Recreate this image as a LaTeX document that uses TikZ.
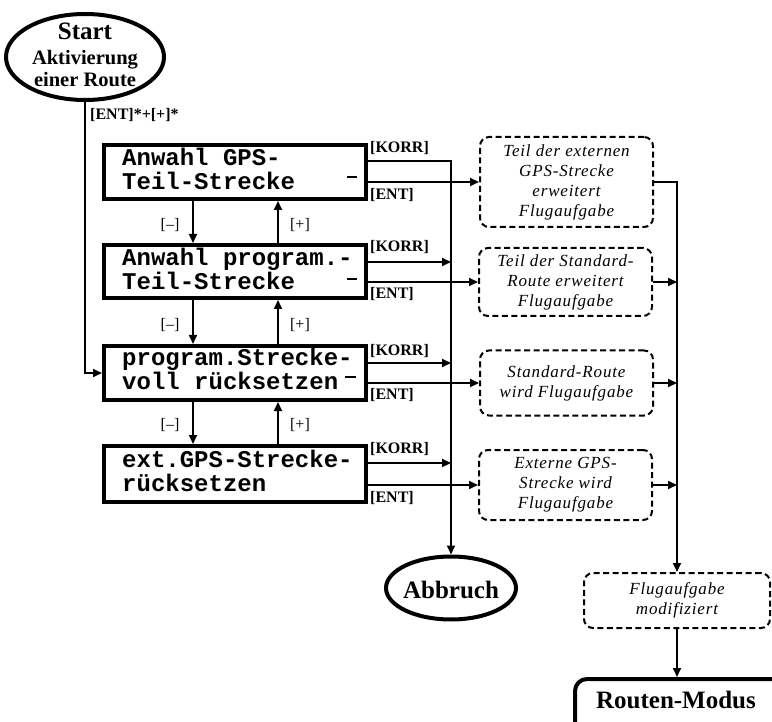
\documentclass[tikz,border=0pt]{standalone}
\usepackage{fontspec}
\setmainfont{Liberation Serif}
\newfontfamily\lcdfont{Liberation Mono}
\usetikzlibrary{arrows.meta,shapes.geometric}
\begin{document}
\begin{tikzpicture}[x=1pt,y=-1pt,
  lcd/.style={draw, line width=4pt, minimum width=262pt, inner sep=0pt},
  lcdtxt/.style={font=\lcdfont\bfseries\fontsize{24}{24}\selectfont, anchor=base west, inner sep=0pt},
  res/.style={draw, dash pattern=on 6pt off 3.5pt, line width=2pt, rounded corners=9pt,
    align=center, inner sep=0pt, minimum width=173pt,
    font=\itshape\fontsize{17}{20}\selectfont\addfontfeature{LetterSpace=5}},
  key/.style={font=\bfseries\fontsize{16}{16}\selectfont, inner sep=0pt},
  pm/.style={font=\fontsize{16}{16}\selectfont, inner sep=0pt},
  term/.style={draw, ellipse, line width=4pt, inner sep=0pt},
  big/.style={font=\bfseries\fontsize{25}{25}\selectfont, inner sep=0pt, anchor=base},
  arr/.style={line width=2pt, -{Triangle[length=9pt,width=8pt]}},
  cur/.style={line width=2.5pt}
]
\path[use as bounding box] (0,0) rectangle (772,722);
\clip (0,0) rectangle (772,722);

% Start
\node[term, minimum width=158pt, minimum height=86pt] (start) at (85,57) {};
\node[big] (startt) at (85,40) {Start};
\node[big, font=\bfseries\fontsize{20.5}{20.5}\selectfont] (startt2) at (85,65) {Aktivierung};
\node[big, font=\bfseries\fontsize{20.5}{20.5}\selectfont] (startt3) at (85,87) {einer Route};
\node[key, anchor=west] (entplus) at (90,115) {[ENT]*+[+]*};

% LCD boxes
\node[lcd, minimum height=54pt] (b1) at (235,172) {};
\node[lcd, minimum height=53pt] (b2) at (235,271.5) {};
\node[lcd, minimum height=54pt] (b3) at (235,373) {};
\node[lcd, minimum height=56pt] (b4) at (235,474) {};

\node[lcdtxt] (b1a) at (122,166) {Anwahl GPS-};
\node[lcdtxt] (b1b) at (122,190) {Teil-Strecke};
\node[lcdtxt] (b2a) at (122,266) {Anwahl program.-};
\node[lcdtxt] (b2b) at (122,290) {Teil-Strecke};
\node[lcdtxt] (b3a) at (122,366) {program.Strecke-};
\node[lcdtxt] (b3b) at (122,390) {voll rücksetzen};
\node[lcdtxt] (b4a) at (122,467) {ext.GPS-Strecke-};
\node[lcdtxt] (b4b) at (122,491) {rücksetzen};

\draw[cur] (347,177) -- (357,177);
\draw[cur] (347,279) -- (357,279);
\draw[cur] (345,377) -- (356,377);

% up/down arrows
\foreach \a/\b in {b1/b2,b2/b3,b3/b4}{
  \draw[arr] ([xshift=-42pt]\a.south) -- ([xshift=-42pt]\b.north);
  \draw[arr] ([xshift=43pt]\b.north) -- ([xshift=43pt]\a.south);
}
\node[pm] (m1) at (170,225) {[–]};
\node[pm] (p1) at (300,225) {[+]};
\node[pm] (m2) at (170,325) {[–]};
\node[pm] (p2) at (300,325) {[+]};
\node[pm] (m3) at (170,425) {[–]};
\node[pm] (p3) at (300,425) {[+]};

% start to box3
\draw[arr] (start.south) |- (b3.west);

% result boxes
\node[res, minimum height=90pt] (d1) at (566.5,182) {Teil der externen\\GPS-Strecke\\erweitert\\Flugaufgabe};
\node[res, minimum height=68pt] (d2) at (565.5,282) {Teil der Standard-\\Route erweitert\\Flugaufgabe};
\node[res, minimum height=65pt] (d3) at (566.5,383) {Standard-Route\\wird Flugaufgabe};
\node[res, minimum height=70pt] (d4) at (565.5,485) {Externe GPS-\\Strecke wird\\Flugaufgabe};
\node[res, minimum width=186pt, minimum height=55pt] (mod) at (677,600.5) {Flugaufgabe\\modifiziert};

% Abbruch
\node[term, minimum width=130pt, minimum height=63pt] (ab) at (451,588) {};
\node[big] (abt) at (451,598) {Abbruch};

% Routen-Modus
\node[draw, line width=4pt, rounded corners=12pt, minimum width=215pt, minimum height=70pt, anchor=north west, inner sep=0pt] (rm) at (573,677) {};
\node[big] (rmt) at (676,708) {Routen-Modus};

% KORR connectors
\draw[arr] ([yshift=11pt]b1.east) -| (ab.north);
\foreach \b/\s in {b2/9.5,b3/10,b4/11}{
  \draw[arr] ([yshift=\s pt]\b.east) -- ([yshift=\s pt]\b.east -| ab.north);
}
% ENT connectors
\draw[arr] (b1.east |- d1.west) -- (d1.west);
\draw[arr] (b2.east |- d2.west) -- (d2.west);
\draw[arr] (b3.east |- d3.west) -- (d3.west);
\draw[arr] (b4.east |- d4.west) -- (d4.west);

% labels
\node[key, anchor=west] (k1) at (370,148) {[KORR]};
\node[key, anchor=west] (e1) at (370,195) {[ENT]};
\node[key, anchor=west] (k2) at (370,247) {[KORR]};
\node[key, anchor=west] (e2) at (370,294) {[ENT]};
\node[key, anchor=west] (k3) at (370,351) {[KORR]};
\node[key, anchor=west] (e3) at (370,395) {[ENT]};
\node[key, anchor=west] (k4) at (370,449) {[KORR]};
\node[key, anchor=west] (e4) at (370,498) {[ENT]};

% right bus
\draw[arr] (d1.east) -| (mod.north);
\draw[arr] (d2.east) -- (d2.east -| mod.north);
\draw[arr] (d3.east) -- (d3.east -| mod.north);
\draw[arr] (d4.east) -- (d4.east -| mod.north);
\draw[arr] (mod.south) -- (mod.south |- rm.north);
\end{tikzpicture}
\end{document}
